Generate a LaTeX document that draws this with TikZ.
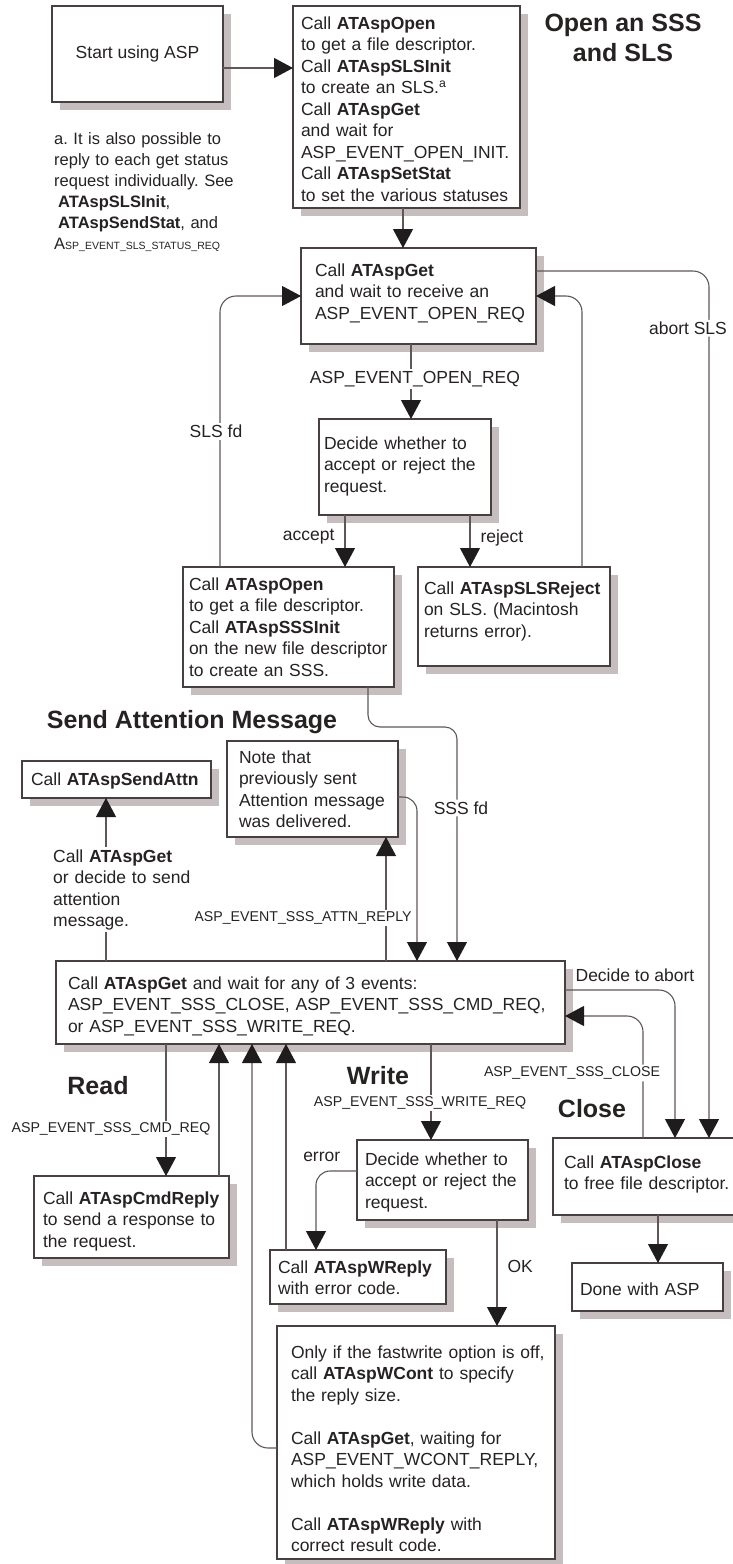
\documentclass[tikz,border=0pt]{standalone}
\usepackage{fontspec}
\setmainfont{Liberation Sans}
\usepackage{tikz}
\usetikzlibrary{arrows.meta,positioning,shadows}

\definecolor{ink}{RGB}{38,34,34}
\definecolor{boxc}{RGB}{72,64,64}
\definecolor{wirec}{RGB}{96,86,86}
\definecolor{shade}{RGB}{198,190,190}
\definecolor{tipc}{RGB}{30,28,28}
\frenchspacing

\begin{document}
\begin{tikzpicture}[
x=1pt, y=-1pt,
box/.style={draw=boxc, fill=white, line width=1.2pt, outer sep=0pt, inner ysep=0pt, anchor=north west, align=left, text=ink,
  font=\fontsize{17.5}{21.5}\selectfont,
  drop shadow={shadow xshift=8pt, shadow yshift=-8pt, fill=shade, opacity=1},
  execute at begin node={\rightskip=-40pt plus 1fil\relax}},
wire/.style={draw=wirec, line width=1.1pt},
arrow/.style={wire, -{Triangle[length=19pt, width=20pt, color=tipc]}},
lbl/.style={font=\fontsize{17.5}{21.5}\selectfont, text=ink, fill=white, inner sep=2pt},
smalllbl/.style={lbl, font=\fontsize{14.2}{17}\selectfont, inner xsep=1pt},
heading/.style={font=\fontsize{25}{30}\selectfont\bfseries, text=ink, align=center, inner sep=0pt}
]
\useasboundingbox (0,0) rectangle (733,1564);

% headings
\node[heading] (opentitle) at (623,38) {Open an SSS\\and SLS};
\node[heading, anchor=base] (attntitle) at (192,728) {Send Attention Message};
\node[heading, anchor=base] (readtitle) at (98,1094) {Read};
\node[heading, anchor=base] (writetitle) at (378,1084) {Write};
\node[heading, anchor=base] (closetitle) at (592,1117) {Close};

% opening the session
\node[box, minimum width=171pt, minimum height=96pt, inner xsep=0pt, execute at begin node={}] (start) at (52,6) {Start using ASP};
\node[box, text width=211pt, inner xsep=8pt, text height=23pt, text depth=179pt] (open) at (293,6) {Call \textbf{ATAspOpen}\\ to get a file descriptor.\\ Call \textbf{ATAspSLSInit}\\ to create an SLS.\textsuperscript{a}\\ Call \textbf{ATAspGet}\\ and wait for\\ ASP\_EVENT\_OPEN\_INIT.\\ Call \textbf{ATAspSetStat}\\ to set the various statuses};
\node[anchor=base west, text width=225pt, align=left, inner sep=0pt, text=ink, font=\fontsize{16.5}{21}\selectfont] (footnote) at (54,144) {a. It is also possible to\\ reply to each get status\\ request individually. See\\ \hspace*{4pt}\textbf{ATAspSLSInit},\\ \hspace*{4pt}\textbf{ATAspSendStat}, and\\ A{\fontsize{10.5}{12}\selectfont SP\_EVENT\_SLS\_STATUS\_REQ}};
\node[box, text width=207pt, inner xsep=14pt, text height=28pt, text depth=68pt] (get1) at (301,248) {Call \textbf{ATAspGet}\\ and wait to receive an\\ ASP\_EVENT\_OPEN\_REQ};
\node[box, text width=162pt, inner xsep=5pt, text height=30pt, text depth=66pt] (decide) at (319,419) {Decide whether to\\ accept or reject the\\ request.};
\node[box, text width=199pt, inner xsep=6pt, text height=23pt, text depth=97pt] (accept) at (183,567) {Call \textbf{ATAspOpen}\\ to get a file descriptor.\\ Call \textbf{ATAspSSSInit}\\ on the new file descriptor\\ to create an SSS.};
\node[box, text width=180pt, inner xsep=6pt, text height=27pt, text depth=72pt] (reject) at (418,567) {Call \textbf{ATAspSLSReject}\\ on SLS. (Macintosh\\ returns error).};

% attention and main loop
\node[box, text width=171pt, inner xsep=9pt, text height=24pt, text depth=13pt] (sendattn) at (22,761) {Call \textbf{ATAspSendAttn}};
\node[box, text width=147pt, inner xsep=12pt, text height=22pt, text depth=74pt] (note) at (227,741) {Note that\\ previously sent\\ Attention message\\ was delivered.};
\node[box, text width=485pt, inner xsep=12pt, text height=28pt, text depth=55pt] (main) at (56,961) {Call \textbf{ATAspGet} and wait for any of 3 events:\\ ASP\_EVENT\_SSS\_CLOSE, ASP\_EVENT\_SSS\_CMD\_REQ,\\ or ASP\_EVENT\_SSS\_WRITE\_REQ.};
\node[box, text width=177pt, inner xsep=9pt, text height=28pt, text depth=54pt] (cmdreply) at (34,1176) {Call \textbf{ATAspCmdReply}\\ to send a response to\\ the request.};
\node[box, text width=155pt, inner xsep=8pt, text height=25pt, text depth=55pt] (decide2) at (357,1140) {Decide whether to\\ accept or reject the\\ request.};
\node[box, text width=160pt, inner xsep=8pt, text height=23pt, text depth=31pt] (wreply) at (270,1250) {Call \textbf{ATAspWReply}\\ with error code.};
\node[box, text width=170pt, inner xsep=11pt, text height=30pt, text depth=47pt] (close) at (553,1138) {Call \textbf{ATAspClose}\\ to free file descriptor.};
\node[box, text width=135pt, inner xsep=8pt, text height=32pt, text depth=16pt] (done) at (572,1263) {Done with ASP};
\node[box, text width=250pt, inner xsep=14pt, text height=32pt, text depth=201pt] (big) at (277,1326) {Only if the fastwrite option is off,\\ call \textbf{ATAspWCont} to specify\\ the reply size.\\[21.5pt] Call \textbf{ATAspGet}, waiting for\\ ASP\_EVENT\_WCONT\_REPLY,\\ which holds write data.\\[21.5pt] Call \textbf{ATAspWReply} with\\ correct result code.};

% open an SSS and SLS
\draw[arrow] (start.east |- 0,68) -- (open.west |- 0,68);
\draw[arrow] (403,0 |- open.south) -- (403,0 |- get1.north);
\draw[arrow] (411,0 |- get1.south) -- node[lbl, pos=0.47, xshift=4pt] {ASP\_EVENT\_OPEN\_REQ} (411,0 |- decide.north);
\draw[arrow] (345,0 |- decide.south) -- node[lbl, pos=0.42, left=8pt, fill=none] {accept} (345,0 |- accept.north);
\draw[arrow] (470,0 |- decide.south) -- node[lbl, pos=0.44, right=8pt, fill=none] {reject} (470,0 |- reject.north);
\draw[arrow, rounded corners=16pt] (220,0 |- accept.north) |- node[lbl, pos=0.25, xshift=-4pt] {SLS fd} (get1.west |- 0,296);
\draw[arrow, rounded corners=16pt] (582,0 |- reject.north) |- (get1.east |- 0,296);
\draw[arrow, rounded corners=16pt] (get1.east |- 0,271) -| node[lbl, pos=0.533, xshift=-21pt] {abort SLS} (709,0 |- close.north);
\draw[arrow, rounded corners=12pt] (368,0 |- accept.south) |- (457,727) -- node[lbl, pos=0.346, xshift=4pt] {SSS fd} (457,0 |- main.north);

% send attention message
\draw[arrow, rounded corners=14pt] (note.east |- 0,797) -| (417,0 |- main.north);
\draw[arrow] (386,0 |- main.north) -- node[smalllbl, pos=0.347, xshift=-83pt] {ASP\_EVENT\_SSS\_ATTN\_REPLY} (386,0 |- note.south);
\draw[arrow] (106,0 |- main.north) -- (106,0 |- sendattn.south);
\node[lbl, anchor=base west, text width=140pt, align=left] (attnlbl) at (51,862) {Call \textbf{ATAspGet}\\ or decide to send\\ attention\\ message.};

% read
\draw[arrow] (166,0 |- main.south) -- node[smalllbl, pos=0.644, xshift=-55pt] {ASP\_EVENT\_SSS\_CMD\_REQ} (166,0 |- cmdreply.north);
\draw[arrow] (219,0 |- cmdreply.north) -- (219,0 |- main.south);

% write
\draw[arrow] (431,0 |- main.south) -- node[smalllbl, pos=0.615, xshift=-11pt] {ASP\_EVENT\_SSS\_WRITE\_REQ} (431,0 |- decide2.north);
\draw[arrow, rounded corners=14pt] (decide2.west |- 0,1171) -| node[lbl, pos=0.43, above=7pt, fill=none] {error} (316,0 |- wreply.north);
\draw[arrow] (286,0 |- wreply.north) -- (286,0 |- main.south);
\draw[arrow] (497,0 |- decide2.south) -- node[lbl, pos=0.44, right=8pt, fill=none] {OK} (497,0 |- big.north);
\draw[arrow, rounded corners=16pt] (big.west |- 0,1448) -| (252,0 |- main.south);

% close
\draw[arrow, rounded corners=16pt] (main.east |- 0,990) -| node[lbl, pos=0.318, above=6pt, fill=none] {Decide to abort} (675,0 |- close.north);
\draw[arrow, rounded corners=16pt] (643,0 |- close.north) |- node[smalllbl, pos=0.266, xshift=-71pt] {ASP\_EVENT\_SSS\_CLOSE} (main.east |- 0,1016);
\draw[arrow] (658,0 |- close.south) -- (658,0 |- done.north);
\end{tikzpicture}
\end{document}
